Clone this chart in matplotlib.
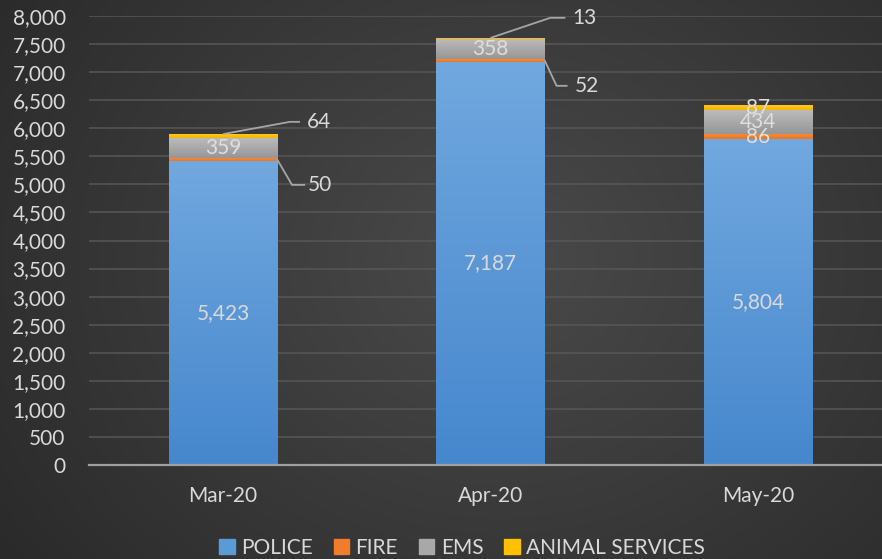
import numpy as np
import matplotlib
matplotlib.use("Agg")
import matplotlib.pyplot as plt
from matplotlib.colors import LinearSegmentedColormap
from matplotlib.patches import Rectangle

months = ["Mar-20", "Apr-20", "May-20"]
police = [5423, 7187, 5804]
fire = [50, 52, 86]
ems = [359, 358, 434]
animal = [64, 13, 87]
series_names = ["POLICE", "FIRE", "EMS", "ANIMAL SERVICES"]
yticks = list(range(0, 8001, 500))

plt.rcParams['font.family'] = ['Lato', 'DejaVu Sans']
TXT = "#d9d9d9"

fig = plt.figure(figsize=(8.82, 5.59), dpi=100)

# background radial gradient
bg = fig.add_axes([0, 0, 1, 1], zorder=-10)
yy, xx = np.mgrid[0:559, 0:882]
r = np.sqrt(((xx - 500) / 620.0) ** 2 + ((yy - 260) / 520.0) ** 2)
r = np.clip(r, 0, 1)
bgc = LinearSegmentedColormap.from_list("bg", ["#4a4a4a", "#2a2a2a"])
bg.imshow(r, cmap=bgc, aspect="auto", extent=[0, 1, 0, 1], origin="upper")
bg.axis("off")

ax = fig.add_axes([89.25 / 882, 1 - 465 / 559, 802.5 / 882, (465 - 16) / 559])
ax.patch.set_alpha(0)

x = np.arange(len(months))
w = 0.404

def grad_bars(bars, c_top, c_bot):
    cmap = LinearSegmentedColormap.from_list("g", [c_bot, c_top])
    g = np.linspace(0, 1, 256).reshape(-1, 1)
    for p in bars:
        x0, y0 = p.get_x(), p.get_y()
        pw, ph = p.get_width(), p.get_height()
        im = ax.imshow(g, extent=[x0, x0 + pw, y0, y0 + ph], origin="lower",
                       aspect="auto", cmap=cmap, zorder=3)
        im.set_clip_path(p)

b_pol = ax.bar(x, police, w, color="#5b9bd5", zorder=2, label=series_names[0])
bottom2 = np.array(police)
b_fire = ax.bar(x, fire, w, bottom=bottom2, color="#f07c2c", zorder=2, label=series_names[1])
bottom3 = bottom2 + np.array(fire)
b_ems = ax.bar(x, ems, w, bottom=bottom3, color="#a8a8a8", zorder=2, label=series_names[2])
bottom4 = bottom3 + np.array(ems)
b_an = ax.bar(x, animal, w, bottom=bottom4, color="#ffc000", zorder=2, label=series_names[3])

grad_bars(b_pol, "#71a8df", "#4687cd")
grad_bars(b_fire, "#f58a3a", "#eb7422")
grad_bars(b_ems, "#bdbdbd", "#969696")
grad_bars(b_an, "#ffc820", "#f5b400")

ax.set_xlim(-0.5, 2.5)
ax.set_ylim(0, 8000)
ax.set_yticks(yticks)
ax.set_yticklabels([f"{v:,}" for v in yticks])
ax.set_xticks(x)
ax.set_xticklabels(months)
ax.tick_params(axis="both", length=0, colors=TXT, labelsize=15)
ax.tick_params(axis="y", pad=17)
ax.tick_params(axis="x", pad=15)
for s in ["top", "right", "left"]:
    ax.spines[s].set_visible(False)
ax.spines["bottom"].set_color("#a0a0a0")
ax.spines["bottom"].set_linewidth(1.6)
ax.spines["bottom"].set_zorder(5)
ax.yaxis.grid(True, color="#575757", linewidth=1.1, zorder=0)
ax.set_axisbelow(True)

fs = 15
# police labels
for i in range(3):
    ax.text(x[i], police[i] / 2, f"{police[i]:,}", ha="center", va="center",
            color=TXT, fontsize=fs, zorder=6)
# EMS labels
for i in range(3):
    ax.text(x[i], bottom3[i] + ems[i] / 2, f"{ems[i]:,}", ha="center", va="center",
            color="#dedede", fontsize=fs, zorder=6)
# May: fire and animal centered
ax.text(x[2], bottom2[2] + fire[2] / 2, f"{fire[2]}", ha="center", va="center",
        color="#dedede", fontsize=fs, zorder=6)
ax.text(x[2], bottom4[2] + animal[2] / 2, f"{animal[2]}", ha="center", va="center",
        color="#dedede", fontsize=fs, zorder=6)

LC = "#a6a6a6"
def leader(pts, label, tx, ty):
    xs, ys = zip(*pts)
    ax.plot(xs, ys, color=LC, lw=1.3, zorder=7, solid_capstyle="butt")
    ax.text(tx, ty, label, ha="left", va="center", color=TXT, fontsize=fs, zorder=7)

# Mar
top0 = bottom4[0] + animal[0]
leader([(x[0], top0), (0.25, 6114), (0.288, 6114)], f"{animal[0]}", 0.312, 6114)
leader([(x[0] + w / 2, bottom2[0] + fire[0] / 2), (0.258, 4991), (0.307, 4991)],
       f"{fire[0]}", 0.318, 4991)
# Apr
top1 = bottom4[1] + animal[1]
leader([(x[1], top1), (1.224, 7968), (1.28, 7968)], f"{animal[1]}", 1.305, 7968)
leader([(x[1] + w / 2, bottom2[1] + fire[1] / 2), (1.247, 6756), (1.288, 6756)],
       f"{fire[1]}", 1.316, 6756)

handles = [Rectangle((0, 0), 1, 1, color=c) for c in ["#5b9bd5", "#f07c2c", "#a8a8a8", "#ffc000"]]
leg = fig.legend(handles, series_names, loc="center", bbox_to_anchor=(462 / 882, 1 - 548 / 559),
                 ncol=4, frameon=False, fontsize=15, handlelength=0.75, handleheight=0.75,
                 handletextpad=0.3, columnspacing=1.0, borderaxespad=0)
for t in leg.get_texts():
    t.set_color(TXT)

fig.savefig("out.png", dpi=100, facecolor="#333333")
